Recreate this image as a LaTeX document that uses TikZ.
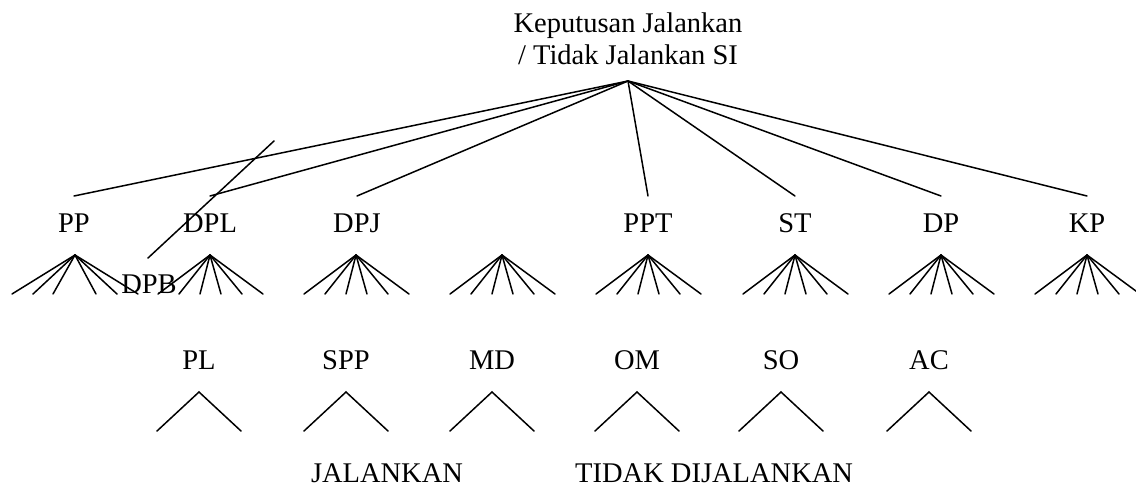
\documentclass[tikz,border=0pt]{standalone}
\usepackage{fontspec}
\setmainfont{Liberation Serif}
\usetikzlibrary{calc}
\begin{document}
\begin{tikzpicture}[x=1pt,y=-1pt,
  lbl/.style={anchor=base,inner sep=0pt,font=\fontsize{28.5}{32}\selectfont},
  ln/.style={line width=1.5pt,line cap=round}]
\useasboundingbox (0,0) rectangle (1136,488);
% root text
\node[lbl,anchor=north,align=center] (top) at (628,13) {Keputusan Jalankan\\/ Tidak Jalankan SI};
\coordinate (root) at (628,81);
% first level labels
\foreach \n/\t/\x in {pp/PP/74, dpl/DPL/210, dpj/DPJ/357, ppt/PPT/648, st/ST/795, dp/DP/941, kp/KP/1087}{
  \node[lbl] (\n) at (\x,232) {\t};
  \coordinate (\n-in) at (\x,196);
  \draw[ln] (root) -- (\n-in);
}
% stray line and DPB
\coordinate (s1) at (274,141);
\coordinate (s2) at (148,258);
\draw[ln] (s1) -- (s2);
\node[lbl] (dpb) at (149,293) {DPB};
% fans
\coordinate (fa) at (75,255);
\foreach \d in {-63,-42,-22,21,42,63} \draw[ln] (fa) -- ++(\d,39);
\foreach \i/\x in {b/210, c/356, d/502, e/648, f/795, g/941, h/1087}{
  \coordinate (f\i) at (\x,255);
  \foreach \d in {-52,-31,-10,11,32,53} \draw[ln] (f\i) -- ++(\d,39);
}
% second level labels and chevrons
\foreach \n/\t/\x in {pl/PL/199, spp/SPP/346, md/MD/492, om/OM/637, so/SO/781, ac/AC/929}{
  \node[lbl] (\n) at (\x,369) {\t};
  \coordinate (\n-c) at (\x,392);
  \draw[ln] ($(\n-c)+(-42,39)$) -- (\n-c) -- ($(\n-c)+(42,39)$);
}
% bottom texts
\node[lbl] (jal) at (387,482) {JALANKAN};
\node[lbl] (tdj) at (575,482) [anchor=base west] {TIDAK DIJALANKAN};
\end{tikzpicture}
\end{document}
